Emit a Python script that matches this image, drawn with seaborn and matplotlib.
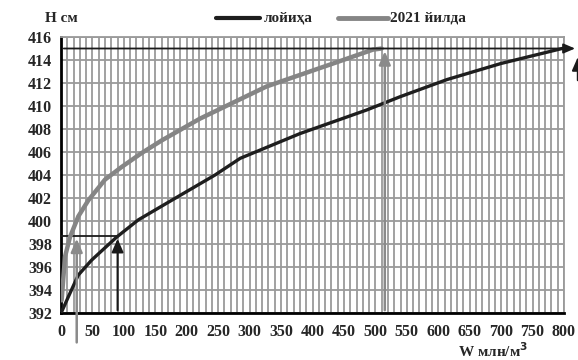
import matplotlib
matplotlib.use("Agg")
import matplotlib.pyplot as plt
import seaborn as sns
import pandas as pd

# data
project_w = [1, 11.6, 27.5, 48.7, 88.5, 123, 176, 245, 285, 380, 486, 539, 614, 700, 797]
project_h = [392.1, 393.4, 395.3, 396.6, 398.6, 400.1, 401.8, 404.0, 405.45, 407.6, 409.65, 410.8, 412.3, 413.7, 415.0]
y2021_w = [1, 6.4, 14.3, 27.5, 43.5, 70, 96.5, 128, 160, 221, 327, 433, 496, 510]
y2021_h = [393.1, 396.9, 398.6, 400.4, 401.8, 403.6, 404.7, 405.9, 407.0, 408.9, 411.7, 413.7, 414.9, 415.0]
x_ticks = list(range(0, 801, 50))
y_ticks = list(range(392, 417, 2))
series_names = ["лойиҳа", "2021 йилда"]

df = pd.concat([
    pd.DataFrame({"W": project_w, "H": project_h, "s": series_names[0]}),
    pd.DataFrame({"W": y2021_w, "H": y2021_h, "s": series_names[1]}),
])

sns.set_style("white")
plt.rcParams["font.family"] = ["Liberation Serif", "DejaVu Serif"]
plt.rcParams["font.weight"] = "bold"

fig = plt.figure(figsize=(5.78, 3.6), dpi=100)
ax = fig.add_axes([61/578, 1-313/360, (564-61)/578, (313-37)/360])

grid_c = "#9a9a9a"
ax.set_xlim(0, 800)
ax.set_ylim(392, 416)
ax.set_xticks(x_ticks)
ax.set_xticks(list(range(0, 801, 10)), minor=True)
ax.set_yticks(y_ticks)
ax.grid(True, which="minor", axis="x", color=grid_c, lw=1.3)
ax.grid(True, which="major", axis="both", color=grid_c, lw=1.3)
ax.set_axisbelow(True)

sns.lineplot(data=df, x="W", y="H", hue="s", palette={series_names[0]: "#1e1e1e", series_names[1]: "#858585"},
             sort=False, ax=ax, legend=False, lw=2.4, zorder=5)
ax.lines[1].set_linewidth(3.2)

# guide lines / arrows
blk = "#1a1a1a"
ax.plot([0, 90], [398.7, 398.7], color=blk, lw=1.3, zorder=4)
ax.annotate("", xy=(90, 398.7), xytext=(90, 392), arrowprops=dict(arrowstyle="-|>,head_width=0.35,head_length=0.8", color=blk, lw=1.5), zorder=6)
ax.annotate("", xy=(25, 398.7), xytext=(25, 389.2), arrowprops=dict(arrowstyle="-|>,head_width=0.35,head_length=0.8", color="#8a8a8a", lw=1.8), annotation_clip=False, zorder=6)
ax.annotate("", xy=(515, 415), xytext=(515, 392), arrowprops=dict(arrowstyle="-|>,head_width=0.35,head_length=0.8", color="#8a8a8a", lw=1.8), zorder=6)
ax.annotate("", xy=(822, 415), xytext=(0, 415), arrowprops=dict(arrowstyle="-|>,head_width=0.3,head_length=0.7", color=blk, lw=1.3), annotation_clip=False, zorder=6)
ax.annotate("", xy=(822, 414.5), xytext=(822, 412.0), arrowprops=dict(arrowstyle="-|>,head_width=0.35,head_length=0.8", color=blk, lw=1.5), annotation_clip=False, zorder=6)

for s in ["top", "right"]:
    ax.spines[s].set_color(grid_c)
    ax.spines[s].set_linewidth(1.3)
for s in ["left", "bottom"]:
    ax.spines[s].set_color("black")
    ax.spines[s].set_linewidth(2.0)

ax.tick_params(axis="y", which="major", direction="inout", length=9, width=1.8, color="black", labelsize=11.5, pad=2)
ax.tick_params(axis="x", which="major", direction="out", length=4, width=1.3, color="black", labelsize=11.5, pad=4)
ax.tick_params(axis="x", which="minor", direction="out", length=3, width=1.0, color="black")
for lab in ax.get_xticklabels() + ax.get_yticklabels():
    lab.set_fontweight("bold")
ax.set_xlabel("")
ax.set_ylabel("")

fig.text(45/578, 1-19/360, "H см", fontsize=11, fontweight="bold", va="center", ha="left")
fig.text(458/578, 1-351/360, "W млн/м$^\\mathbf{3}$", fontsize=11, fontweight="bold", va="center", ha="left")

# legend
fig.lines.append(plt.Line2D([216/578, 260/578], [1-18/360, 1-18/360], color="#1e1e1e", lw=3.0, transform=fig.transFigure))
fig.text(264/578, 1-18/360, series_names[0], fontsize=11, fontweight="bold", va="center", ha="left")
fig.lines.append(plt.Line2D([338/578, 388/578], [1-18/360, 1-18/360], color="#858585", lw=3.5, transform=fig.transFigure))
fig.text(390/578, 1-18/360, series_names[1], fontsize=11, fontweight="bold", va="center", ha="left")

fig.savefig("out.png", dpi=100)
